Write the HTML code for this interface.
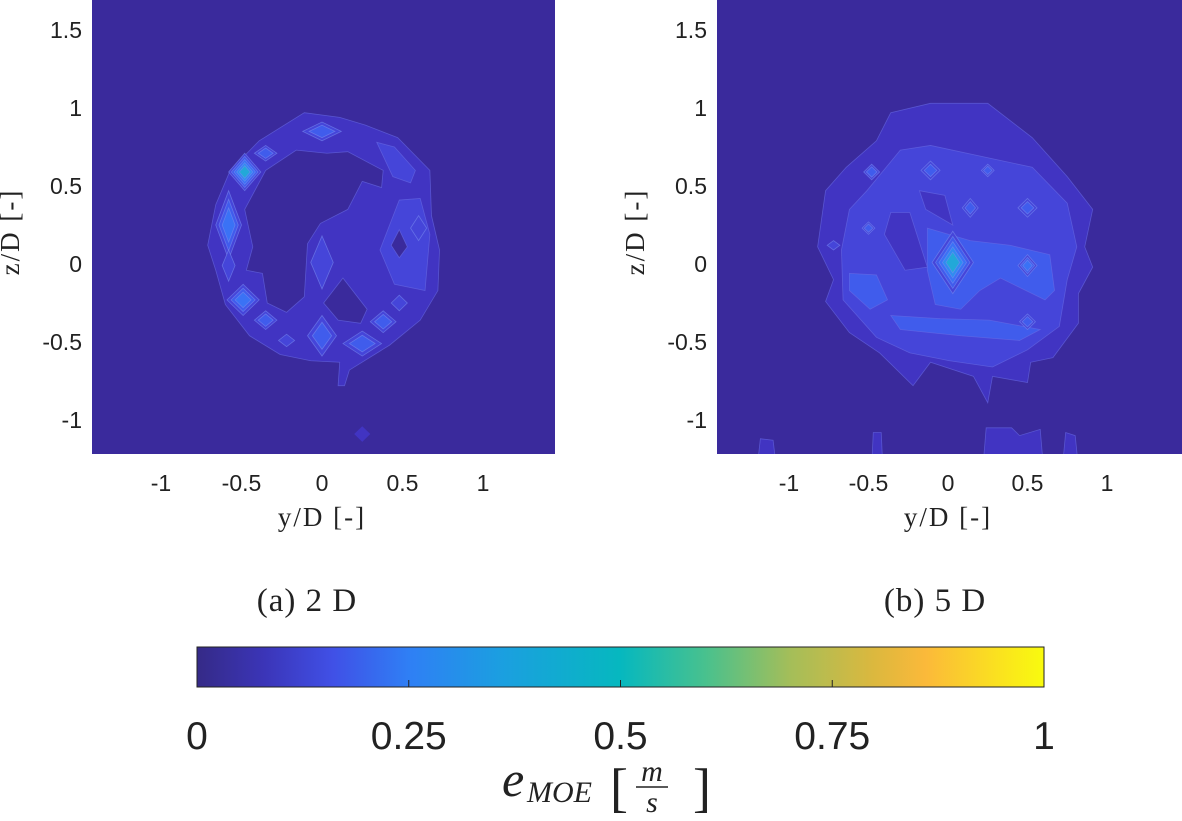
<!DOCTYPE html>
<html><head><meta charset="utf-8"><style>
body{margin:0;background:#fff;}
svg{display:block;}
.tk{font-family:"Liberation Sans",sans-serif;font-size:23px;fill:#222;}
.ax{font-family:"Liberation Serif",serif;font-size:27px;fill:#222;letter-spacing:2px;}
.lb{font-family:"Liberation Serif",serif;fill:#222;}
</style></head><body>
<svg id="s" width="1182" height="821" viewBox="0 0 1182 821" xmlns="http://www.w3.org/2000/svg">
<defs>
<clipPath id="c1"><rect x="92" y="0" width="463" height="454"/></clipPath>
<clipPath id="c2"><rect x="717" y="0" width="465" height="454"/></clipPath>
<linearGradient id="parula" x1="0" x2="1" y1="0" y2="0">
<stop offset="0" stop-color="#352a87"/><stop offset="0.08" stop-color="#3b35b8"/>
<stop offset="0.16" stop-color="#4050e6"/><stop offset="0.25" stop-color="#2f7ff5"/>
<stop offset="0.36" stop-color="#1b9fe0"/><stop offset="0.5" stop-color="#06b8bf"/>
<stop offset="0.6" stop-color="#48c18e"/><stop offset="0.7" stop-color="#a4be59"/>
<stop offset="0.8" stop-color="#dcb83e"/><stop offset="0.86" stop-color="#fbb93a"/>
<stop offset="1" stop-color="#f9fb0e"/></linearGradient>
</defs>
<g id="p1"></g>
<g id="p2"></g>
<text x="307" y="611" text-anchor="middle" class="lb" style="font-size:33px;letter-spacing:1px">(a) 2 D</text>
<text x="935" y="611" text-anchor="middle" class="lb" style="font-size:33px;letter-spacing:1px">(b) 5 D</text>
<g>
<rect x="197" y="647" width="847" height="40" fill="url(#parula)" stroke="#222" stroke-width="1"/>
<g id="cbt"></g>
<g>
<text x="502" y="796" class="lb" style="font-size:50px;font-style:italic">e</text>
<text x="527" y="802" class="lb" style="font-size:30px;font-style:italic">MOE</text>
<text x="610" y="806" class="lb" style="font-size:54px">[</text>
<text x="652" y="781" text-anchor="middle" class="lb" style="font-size:30px;font-style:italic">m</text>
<line x1="636" x2="668" y1="787" y2="787" stroke="#222" stroke-width="1.5"/>
<text x="652" y="812" text-anchor="middle" class="lb" style="font-size:30px;font-style:italic">s</text>
<text x="693" y="806" class="lb" style="font-size:54px">]</text>
</g>
</g>
</svg>
<script>
const levelColors=['#3a2a9c','#4134c2','#4545d9','#405cec','#3a72f5','#2f8cf0','#22a8d8','#2cc0a0'];
const cbTicks=[0,0.25,0.5,0.75,1];
const cbLabels=['0','0.25','0.5','0.75','1'];
const xTicks=[-1,-0.5,0,0.5,1];
const yTicks=[-1,-0.5,0,0.5,1,1.5];
const p1Polys=[
[1,[[-0.11,0.97],[0.11,0.94],[0.27,0.89],[0.47,0.81],[0.67,0.6],[0.68,0.31],[0.73,0.09],[0.72,-0.17],[0.61,-0.36],[0.42,-0.52],[0.17,-0.68],[0.14,-0.78],[0.1,-0.78],[0.11,-0.63],[-0.07,-0.62],[-0.26,-0.58],[-0.45,-0.46],[-0.6,-0.26],[-0.66,-0.04],[-0.71,0.12],[-0.66,0.38],[-0.57,0.6],[-0.39,0.79]]],
[0,[[-0.16,0.73],[0.03,0.71],[0.16,0.72],[0.38,0.6],[0.37,0.49],[0.25,0.53],[0.16,0.35],[-0.01,0.26],[-0.09,0.13],[-0.11,-0.21],[-0.22,-0.31],[-0.34,-0.25],[-0.37,-0.06],[-0.47,-0.04],[-0.43,0.11],[-0.48,0.35],[-0.35,0.6]]],
[0,[[0.13,-0.09],[0.28,-0.29],[0.24,-0.38],[0.1,-0.36],[0.01,-0.25]]],
[2,[[0.48,0.41],[0.61,0.42],[0.67,0.19],[0.64,-0.17],[0.45,-0.13],[0.36,0.09]]],
[2,[[0.34,0.78],[0.45,0.75],[0.58,0.6],[0.55,0.52],[0.44,0.56]]],
[0,[[0.48,0.22],[0.53,0.11],[0.48,0.04],[0.43,0.12]]]
];
const p1Spots=[[0,0.85,0.12,0.06,3],[-0.48,0.59,0.1,0.12,6],[-0.35,0.71,0.07,0.05,3],[-0.58,0.25,0.08,0.22,4],[-0.58,-0.01,0.04,0.1,2],[-0.49,-0.23,0.1,0.1,4],[-0.35,-0.36,0.07,0.06,3],[-0.22,-0.49,0.05,0.04,2],[0,-0.46,0.09,0.13,3],[0.25,-0.51,0.12,0.08,3],[0.38,-0.37,0.08,0.07,3],[0.48,-0.25,0.05,0.05,2],[0.6,0.23,0.05,0.08,2],[0,0.01,0.07,0.17,2],[0.25,-1.09,0.05,0.05,1]];
const p2Polys=[
[1,[[-0.11,1.03],[0.25,1.03],[0.53,0.81],[0.75,0.56],[0.91,0.35],[0.86,0.11],[0.91,-0.02],[0.82,-0.19],[0.82,-0.38],[0.66,-0.6],[0.52,-0.63],[0.5,-0.76],[0.28,-0.72],[0.25,-0.89],[0.16,-0.72],[-0.11,-0.63],[-0.22,-0.78],[-0.43,-0.57],[-0.62,-0.44],[-0.77,-0.24],[-0.72,-0.1],[-0.82,0.11],[-0.77,0.47],[-0.64,0.62],[-0.45,0.79],[-0.36,0.97]]],
[2,[[-0.11,0.76],[0.53,0.62],[0.75,0.39],[0.81,0.11],[0.75,-0.1],[0.7,-0.4],[0.5,-0.55],[0.28,-0.66],[0.01,-0.62],[-0.24,-0.57],[-0.45,-0.47],[-0.66,-0.23],[-0.67,0.09],[-0.62,0.35],[-0.51,0.47],[-0.3,0.73]]],
[1,[[-0.36,0.33],[-0.24,0.33],[-0.13,-0.02],[-0.27,-0.04],[-0.4,0.19]]],
[1,[[-0.18,0.47],[-0.02,0.44],[0.03,0.25],[-0.14,0.35]]],
[3,[[-0.13,0.23],[0.14,0.15],[0.39,0.12],[0.64,0.06],[0.67,-0.17],[0.61,-0.23],[0.33,-0.09],[0.2,-0.17],[0.08,-0.29],[-0.08,-0.26],[-0.13,-0.04]]],
[3,[[-0.62,-0.06],[-0.45,-0.07],[-0.38,-0.23],[-0.49,-0.29],[-0.62,-0.17]]],
[3,[[-0.36,-0.33],[-0.05,-0.35],[0.26,-0.36],[0.58,-0.42],[0.45,-0.49],[0.08,-0.46],[-0.3,-0.42]]],
[1,[[-1.2,-1.3],[-1.18,-1.12],[-1.1,-1.13],[-1.08,-1.3]]],
[1,[[-0.48,-1.3],[-0.47,-1.08],[-0.42,-1.08],[-0.41,-1.3]]],
[1,[[0.22,-1.3],[0.24,-1.05],[0.4,-1.05],[0.45,-1.1],[0.58,-1.06],[0.6,-1.3]]],
[1,[[0.72,-1.3],[0.74,-1.08],[0.8,-1.1],[0.82,-1.3]]]
];
const p2Spots=[[0.03,0.01,0.13,0.2,6],[-0.11,0.6,0.06,0.06,3],[-0.48,0.59,0.05,0.05,3],[0.25,0.6,0.04,0.04,3],[0.14,0.36,0.05,0.06,3],[0.5,0.36,0.06,0.06,3],[0.5,-0.01,0.06,0.07,4],[0.5,-0.37,0.05,0.05,3],[-0.5,0.23,0.04,0.04,3],[-0.72,0.12,0.04,0.03,2]];
const NS='http://www.w3.org/2000/svg';
function mk(tag,attrs,parent){const e=document.createElementNS(NS,tag);for(const k in attrs)e.setAttribute(k,attrs[k]);parent.appendChild(e);return e;}
function drawPlot(g,clip,x0,x1,cx,sx,polys,spots,pre){
  const X=v=>cx+sx*v, Y=v=>264-156*v;
  const area=mk('g',{'clip-path':'url(#'+clip+')'},g);
  const bg=mk('rect',{x:x0,y:0,width:x1-x0,height:454,fill:levelColors[0]},area);
  
  
  polys.forEach(p=>{
    const el=mk('polygon',{points:p[1].map(q=>X(q[0])+','+Y(q[1])).join(' '),fill:levelColors[p[0]],stroke:'#6a6ee6','stroke-width':0.8,'stroke-opacity':0.6},area);
    
    
  });
  spots.forEach(s=>{
    const x=X(s[0]), y=Y(s[1]);
    if(s[4]===1){const rx=s[2]*sx,ry=s[3]*156;
      const el=mk('polygon',{points:`${x-rx},${y} ${x},${y-ry} ${x+rx},${y} ${x},${y+ry}`,fill:levelColors[1]},area);
      
      }
    for(let l=2;l<=s[4];l++){
      const f=1-(l-2)/s[4];
      const rx=s[2]*sx*f, ry=s[3]*156*f;
      const el=mk('polygon',{points:`${x-rx},${y} ${x},${y-ry} ${x+rx},${y} ${x},${y+ry}`,fill:levelColors[l],stroke:'#7a8cf0','stroke-width':0.8,'stroke-opacity':0.6},area);
      
      
    }
  });
  xTicks.forEach(t=>{const tx=mk('text',{x:X(t),y:491,'text-anchor':'middle',class:'tk'},g);tx.textContent=String(t);
    
    });
  yTicks.forEach(t=>{const tx=mk('text',{x:x0-10,y:Y(t)+8,'text-anchor':'end',class:'tk'},g);tx.textContent=String(t);
    
    });
  const xt=mk('text',{x:X(0),y:526,'text-anchor':'middle',class:'ax'},g);xt.textContent='y/D [-]';
  
  
  const yt=mk('text',{x:0,y:0,'text-anchor':'middle',class:'ax',transform:`translate(${x0-73},232) rotate(-90)`},g);yt.textContent='z/D [-]';
  
  
}
drawPlot(document.getElementById('p1'),'c1',92,555,322,161,p1Polys,p1Spots,'plot-2d');
drawPlot(document.getElementById('p2'),'c2',717,1182,948,159,p2Polys,p2Spots,'plot-5d');
const cb=document.getElementById('cbt');
const CX=v=>197+847*v;
cbTicks.forEach((t,i)=>{
  if(t>0&&t<1){const ln=mk('line',{x1:CX(t),x2:CX(t),y1:687,y2:680,stroke:'#222','stroke-width':1},cb);
    
    }
  const tx=mk('text',{x:CX(t),y:749,'text-anchor':'middle',style:"font-family:'Liberation Sans',sans-serif;font-size:39px;fill:#222"},cb);
  tx.textContent=cbLabels[i];
  
  
});
</script>
</body></html>
